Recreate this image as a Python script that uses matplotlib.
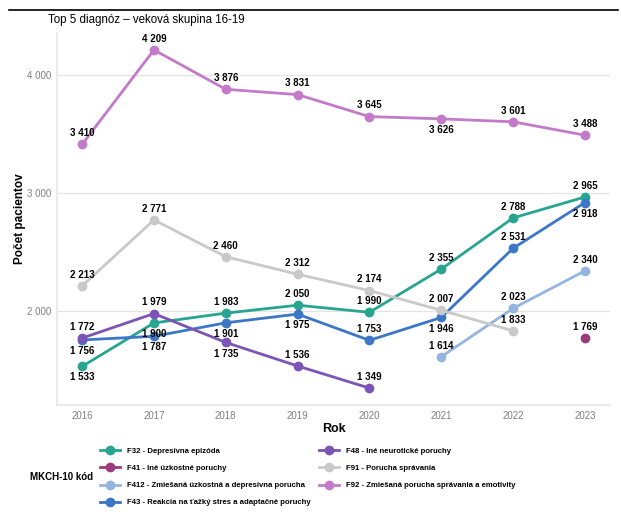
import numpy as np
import matplotlib.pyplot as plt
from matplotlib.lines import Line2D

plt.rcParams['font.family'] = ['Liberation Sans', 'DejaVu Sans']

# data
years = [2016, 2017, 2018, 2019, 2020, 2021, 2022, 2023]

f32 = [1533, 1900, 1983, 2050, 1990, 2355, 2788, 2965]
f41_years = [2023]
f41 = [1769]
f412_years = [2021, 2022, 2023]
f412 = [1614, 2023, 2340]
f43 = [1756, 1787, 1901, 1975, 1753, 1946, 2531, 2918]
f48_years = [2016, 2017, 2018, 2019, 2020]
f48 = [1772, 1979, 1735, 1536, 1349]
f91_years = [2016, 2017, 2018, 2019, 2020, 2021, 2022]
f91 = [2213, 2771, 2460, 2312, 2174, 2007, 1833]
f92 = [3410, 4209, 3876, 3831, 3645, 3626, 3601, 3488]

names = ['F32 - Depresívna epizóda',
         'F41 - Iné úzkostné poruchy',
         'F412 - Zmiešaná úzkostná a depresívna porucha',
         'F43 - Reakcia na ťažký stres a adaptačné poruchy',
         'F48 - Iné neurotické poruchy',
         'F91 - Porucha správania',
         'F92 - Zmiešaná porucha správania a emotivity']
colors = ['#27a591', '#9d3a7f', '#93b6e1', '#3b77c6', '#7c53b6', '#c9c9c9', '#c27ac9']

series = [(years, f32), (f41_years, f41), (f412_years, f412), (years, f43),
          (f48_years, f48), (f91_years, f91), (years, f92)]

# label positions: 1 = above, -1 = below (same order as series)
label_pos = [
    [-1, -1, 1, 1, 1, 1, 1, 1],
    [1],
    [1, 1, 1],
    [-1, -1, -1, -1, 1, -1, 1, -1],
    [1, 1, -1, 1, 1],
    [1, 1, 1, 1, 1, 1, 1],
    [1, 1, 1, 1, 1, -1, 1, 1],
]

def fmt(v):
    return '{:,}'.format(v).replace(',', ' ')

fig = plt.figure(figsize=(6.21, 5.28), dpi=100)
ax = fig.add_axes([57 / 621, 1 - 405 / 528, 553 / 621, 372 / 528])

for (xs, ys), c, name in zip(series, colors, names):
    ax.plot(xs, ys, '-o', color=c, lw=2, ms=6, label=name, zorder=3)

for (xs, ys), pos in zip(series, label_pos):
    for x, y, p in zip(xs, ys, pos):
        ax.annotate(fmt(y), (x, y), xytext=(0, 8 if p > 0 else -8),
                    textcoords='offset points', ha='center',
                    va='center', fontsize=7, fontweight='bold', zorder=4)

ax.set_xlim(2015.65, 2023.35)
ax.set_ylim(1206, 4352)
ax.set_xticks(years)
ax.set_yticks([2000, 3000, 4000])
ax.set_yticklabels(['2 000', '3 000', '4 000'])
ax.tick_params(length=0, labelsize=7, colors='#7f7f7f', pad=4)
ax.grid(axis='y', color='#e3e3e3', lw=0.9)
ax.set_axisbelow(True)
for s in ['top', 'right']:
    ax.spines[s].set_visible(False)
for s in ['left', 'bottom']:
    ax.spines[s].set_color('#e6e6e6')
    ax.spines[s].set_linewidth(1.2)

ax.set_xlabel('Rok', fontsize=9, fontweight='bold', labelpad=2)
ax.set_ylabel('Počet pacientov', fontsize=8.5, fontweight='bold', labelpad=1)

fig.text(48 / 621, 1 - 20 / 528, 'Top 5 diagnóz – veková skupina 16-19',
         fontsize=8.3, va='center', ha='left')

# top rule
fig.add_artist(Line2D([0.015, 0.995], [1 - 10 / 528, 1 - 10 / 528],
                      color='black', lw=1.2))

handles, labels = ax.get_legend_handles_labels()
leg = fig.legend(handles, labels, loc='center left',
                 bbox_to_anchor=(93 / 621, 1 - 477 / 528), ncol=2,
                 frameon=False, prop={'weight': 'bold', 'size': 5.6},
                 handlelength=2.6, columnspacing=1.0, labelspacing=1.25,
                 handletextpad=0.9)
fig.text(30 / 621, 1 - 477 / 528, 'MKCH-10 kód', fontsize=7,
         fontweight='bold', va='center', ha='left')

fig.savefig('out.png', dpi=100)
